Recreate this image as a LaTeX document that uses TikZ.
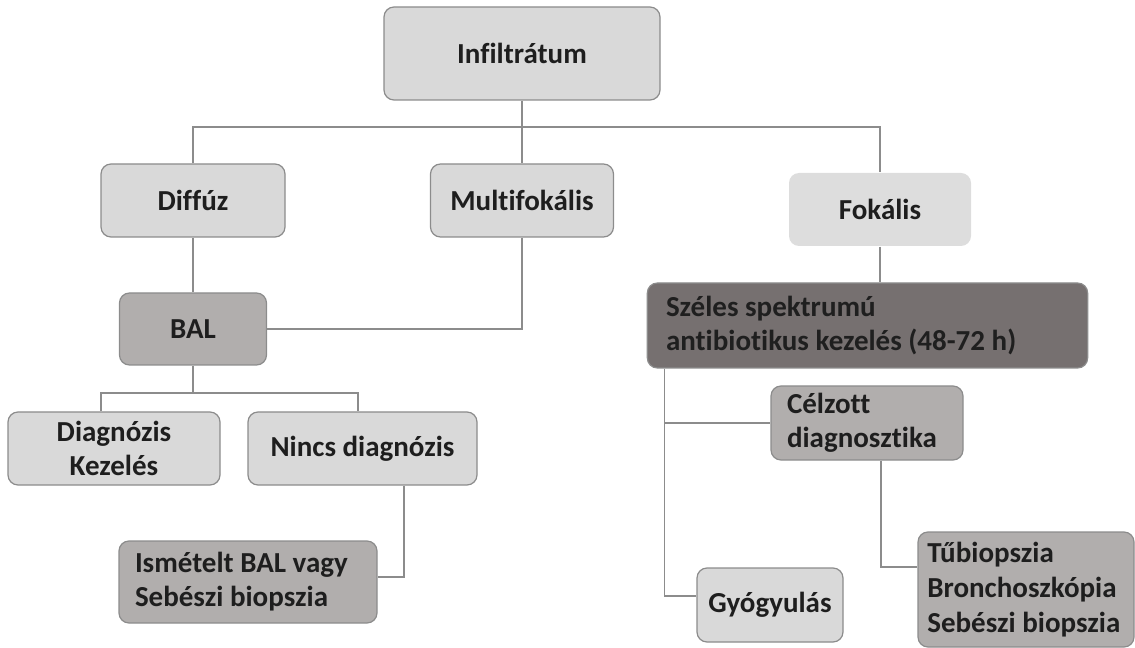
\documentclass[tikz,border=0pt]{standalone}
\usepackage{fontspec}
\setmainfont{Carlito}[Ligatures=NoCommon]
\usetikzlibrary{positioning,calc}
\definecolor{boxlight}{RGB}{217,217,217}
\definecolor{boxpale}{RGB}{221,221,221}
\definecolor{boxmid}{RGB}{177,174,173}
\definecolor{boxdark}{RGB}{118,112,112}
\definecolor{edgegray}{RGB}{140,140,140}
\definecolor{inkdark}{RGB}{30,30,30}

\begin{document}
\begin{tikzpicture}[x=0.75pt,y=0.75pt,yscale=-1,xscale=1,
  box/.style={draw=edgegray, line width=0.9pt, rounded corners=7.5pt, fill=boxlight, text=inkdark,
    font=\bfseries\fontsize{21.75}{25.5}\selectfont, align=center, inner sep=0pt},
  palebox/.style={box, draw=none, fill=boxpale},
  midbox/.style={box, fill=boxmid},
  darkbox/.style={box, fill=boxdark, text=black!88},
  leftbox/.style={align=flush left, inner xsep=12pt},
  link/.style={draw=edgegray, line width=0.9pt}
]
\useasboundingbox (0,0) rectangle (1135,648);

%Shape: Rounded Rect [top]
\node [box, minimum width=207pt, minimum height=69.75pt] (inf) at (522,53.5) {Infiltrátum};
%Shape: Rounded Rect [second row]
\node [box, minimum width=138pt, minimum height=54.75pt] (diff) at (193,200.5) {Diffúz};
\node [box, minimum width=137.25pt, minimum height=54.75pt] (multi) at (522,200.5) {Multifokális};
\node [palebox, minimum width=136.5pt, minimum height=54.75pt] (fok) at (880,209.5) {Fokális};

%Shape: Rounded Rect [left branch]
\node [midbox, minimum width=110.25pt, minimum height=54pt] (bal) at (193,329) {BAL};
\node [box, minimum width=159pt, minimum height=54.75pt] (diag) at (114,448.5) {Diagnózis\\Kezelés};
\node [box, minimum width=171.75pt, minimum height=54.75pt] (nincs) at (362.5,448.5) {Nincs diagnózis};
\node [midbox, leftbox, text width=169.5pt, minimum height=61.5pt] (ism) at (248,582) {Ismételt BAL vagy\\Sebészi biopszia};

%Shape: Rounded Rect [right branch]
\node [darkbox, leftbox, inner xsep=14pt, text width=302.25pt, minimum height=63.75pt] (szel) at (867.5,325.5) {Széles spektrumú\\antibiotikus kezelés (48-72 h)};
\node [midbox, leftbox, text width=120pt, minimum height=55.5pt] (cel) at (867,423) {Célzott\\diagnosztika};
\node [box, minimum width=109.5pt, minimum height=55.5pt] (gyo) at (770,605) {Gyógyulás};
\node [midbox, leftbox, inner xsep=7pt, text width=148pt, minimum height=86.25pt,
  font=\bfseries\fontsize{21.75}{26.5}\selectfont] (tu) at (1026,589.5) {Tűbiopszia\\Bronchoszkópia\\Sebészi biopszia};

%Straight Lines [top bus]
\coordinate (topbus) at (522,127);
\draw [link] (diff.north) |- (topbus) -| (fok.north);
\draw [link] (inf.south) -- (multi.north);

%Straight Lines [left]
\draw [link] (diff.south) -- (bal.north);
\draw [link] (multi.south) |- (bal.east);
\coordinate (balbus) at (193,393);
\draw [link] (bal.south) -- (balbus);
\draw [link] ([shift={(-13,0)}]diag.north) |- (balbus) -| ([shift={(-4.5,0)}]nincs.north);
\draw [link] ([shift={(41.5,0)}]nincs.south) |- ([shift={(0,-5)}]ism.east);

%Straight Lines [right]
\draw [link] (fok.south) -- (fok.south |- szel.north);
\coordinate (szelfoot) at ([shift={(18,0)}]szel.south west);
\draw [link] (szelfoot) |- ([shift={(0,-9)}]gyo.west);
\draw [link] (szelfoot |- cel.west) -- (cel.west);
\draw [link] ([shift={(14,0)}]cel.south) |- ([shift={(0,-22.5)}]tu.west);

\end{tikzpicture}
\end{document}
